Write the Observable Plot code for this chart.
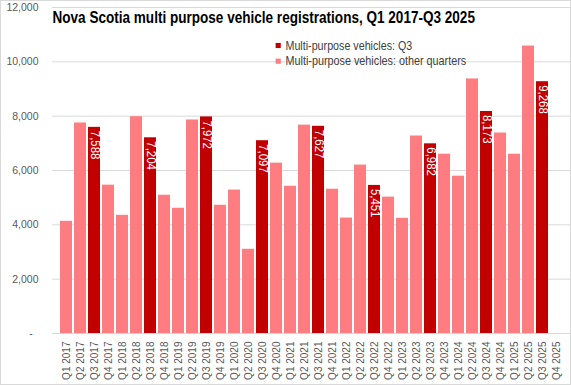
<!DOCTYPE html>
<html>
<head>
<meta charset="utf-8">
<script src="https://cdn.jsdelivr.net/npm/d3@7"></script>
<script src="https://cdn.jsdelivr.net/npm/@observablehq/plot@0.6"></script>
<style>
  html, body { margin: 0; padding: 0; background: #fff; }
  #wrap { position: relative; width: 571px; height: 385px; }
  #border { position: absolute; left: 0; top: 0; width: 571px; height: 385px; box-sizing: border-box; border: 1px solid #d9d9d9; pointer-events: none; }
</style>
</head>
<body>
<div id="wrap"><div id="chart"></div><div id="border"></div></div>
<script>
const quarters = [
  "Q1 2017","Q2 2017","Q3 2017","Q4 2017",
  "Q1 2018","Q2 2018","Q3 2018","Q4 2018",
  "Q1 2019","Q2 2019","Q3 2019","Q4 2019",
  "Q1 2020","Q2 2020","Q3 2020","Q4 2020",
  "Q1 2021","Q2 2021","Q3 2021","Q4 2021",
  "Q1 2022","Q2 2022","Q3 2022","Q4 2022",
  "Q1 2023","Q2 2023","Q3 2023","Q4 2023",
  "Q1 2024","Q2 2024","Q3 2024","Q4 2024",
  "Q1 2025","Q2 2025","Q3 2025","Q4 2025"
];
const registrations = [
  4130, 7750, 7588, 5460,
  4350, 7980, 7204, 5090,
  4610, 7860, 7972, 4720,
  5280, 3100, 7097, 6270,
  5420, 7670, 7627, 5310,
  4250, 6200, 5451, 5020,
  4240, 7270, 6982, 6600,
  5790, 9370, 8173, 7380,
  6600, 10580, 9268, null
];
const seriesNames = ["Multi-purpose vehicles: Q3", "Multi-purpose vehicles: other quarters"];
const seriesColors = ["#c00000", "#ff7c80"];
const yTicks = [0, 2000, 4000, 6000, 8000, 10000, 12000];
const title = "Nova Scotia multi purpose vehicle registrations, Q1 2017-Q3 2025";

const data = quarters.map((q, i) => ({
  quarter: q,
  value: registrations[i],
  series: q.startsWith("Q3") ? seriesNames[0] : seriesNames[1]
}));
const barData = data.filter(d => d.value != null);
const q3Data = barData.filter(d => d.series === seriesNames[0]);

const sans = "'Liberation Sans', Arial, sans-serif";

const chart = Plot.plot({
  width: 571,
  height: 385,
  marginLeft: 52,
  marginRight: 1,
  marginTop: 7,
  marginBottom: 52,
  style: { fontFamily: sans, background: "transparent" },
  x: { domain: quarters, paddingInner: 0.15, paddingOuter: 0.075, label: null },
  y: { domain: [0, 12000], label: null },
  color: { domain: seriesNames, range: seriesColors },
  marks: [
    Plot.gridY(yTicks, { stroke: "#d9d9d9", strokeOpacity: 1, strokeWidth: 1 }),
    Plot.axisY(yTicks, {
      tickSize: 0, tickPadding: 14, fontSize: 10.5, fill: "#595959",
      tickFormat: d => d === 0 ? "-\u00a0\u00a0" : d3.format(",")(d), label: null
    }),
    Plot.axisX({ tickSize: 0, tickPadding: 8, tickRotate: -90, fontSize: 10, fill: "#595959", label: null }),
    Plot.barY(barData, { x: "quarter", y: "value", fill: "series" }),
    Plot.text(q3Data, {
      x: "quarter", y: "value", text: d => d3.format(",")(d.value),
      rotate: 90, textAnchor: "start", lineAnchor: "middle", dy: 3.5,
      fill: "white", fontSize: 12, className: "barlabel"
    }),
    Plot.text([title], {
      text: d => d, frameAnchor: "top-left", textAnchor: "start", lineAnchor: "middle",
      dx: 0, dy: 10, fontSize: 17, fontWeight: "bold", fill: "#000", className: "ttl"
    }),
    Plot.dot([seriesNames[0]], {
      frameAnchor: "top-left", dx: 225.7, dy: 38, symbol: "square", r: 2.9,
      fill: seriesColors[0], stroke: null
    }),
    Plot.dot([seriesNames[1]], {
      frameAnchor: "top-left", dx: 225.7, dy: 53.7, symbol: "square", r: 2.9,
      fill: seriesColors[1], stroke: null
    }),
    Plot.text([seriesNames[0]], {
      text: d => d, frameAnchor: "top-left", textAnchor: "start", lineAnchor: "middle",
      dx: 233, dy: 38, fontSize: 12.5, fill: "#404040", className: "leg1"
    }),
    Plot.text([seriesNames[1]], {
      text: d => d, frameAnchor: "top-left", textAnchor: "start", lineAnchor: "middle",
      dx: 233, dy: 53.7, fontSize: 12.5, fill: "#404040", className: "leg2"
    })
  ]
});
document.getElementById("chart").appendChild(chart);

// condense horizontal text (narrow typeface in the original) by scaling around its start
function condense(selector, targetWidth) {
  d3.select(chart).selectAll(selector).each(function () {
    const bb = this.getBBox();
    const s = targetWidth / bb.width;
    const x0 = bb.x;
    const prev = this.getAttribute("transform") || "";
    this.setAttribute("transform", `${prev} translate(${x0},0) scale(${s},1) translate(${-x0},0)`.trim());
  });
}
condense(".ttl text", 423);
condense(".leg1 text", 127);
condense(".leg2 text", 181);
d3.select(chart).selectAll(".barlabel text").each(function () {
  d3.select(this).attr("textLength", this.getComputedTextLength() * 0.95).attr("lengthAdjust", "spacingAndGlyphs");
});
</script>
</body>
</html>
